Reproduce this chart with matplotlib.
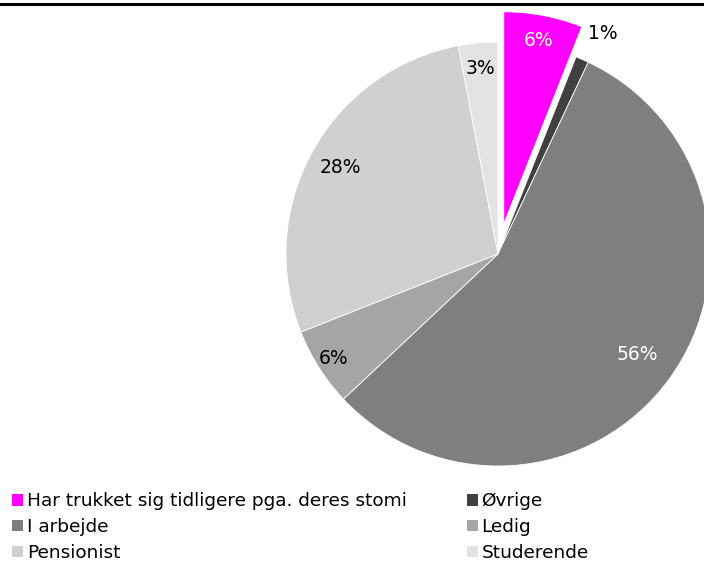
import numpy as np
import matplotlib
matplotlib.use("Agg")
import matplotlib.pyplot as plt
from matplotlib.patches import Rectangle
from matplotlib.lines import Line2D

categories = ["Har trukket sig tidligere pga. deres stomi", "Øvrige", "I arbejde",
              "Ledig", "Pensionist", "Studerende"]
values = [6, 1, 56, 6, 28, 3]
colors = ["#ff00ff", "#404040", "#7f7f7f", "#a5a5a5", "#d0d0d0", "#e3e3e3"]
label_colors = ["white", "black", "white", "black", "black", "black"]
explode_frac = [0.145, 0, 0, 0, 0, 0]
label_dist = [0.88, 1.15, 0.81, 0.92, 0.85, 0.88]
label_rot = [0, 2.0, 0, 0, 0, 0]

plt.rcParams['font.family'] = ['DejaVu Sans']
W, H = 704, 562
fig = plt.figure(figsize=(W / 100, H / 100), dpi=100)
ax = fig.add_axes([0, 0, 1, 1])

cx, cy, R = 498, H - 254, 212
wedges, _ = ax.pie(values, colors=colors, explode=[e * R for e in explode_frac],
                   startangle=90, counterclock=False, center=(cx, cy), radius=R,
                   wedgeprops=dict(edgecolor='white', linewidth=0.6),
                   frame=True)
ax.set_xlim(0, W)
ax.set_ylim(0, H)
ax.set_aspect('equal')
ax.axis('off')

for w, v, d, c, r in zip(wedges, values, label_dist, label_colors, label_rot):
    mid = np.deg2rad((w.theta1 + w.theta2) / 2 - r)
    wx, wy = w.center
    ax.text(wx + d * R * np.cos(mid), wy + d * R * np.sin(mid), f"{v}%",
            ha='center', va='center', fontsize=13.5, color=c)

# top rule (remains of a cut-off title)
fig.add_artist(Line2D([0, 1], [1 - 4 / H, 1 - 4 / H], color='black', lw=2.2))

order = [0, 2, 4, 1, 3, 5]
handles = [Rectangle((0, 0), 1, 1, facecolor=colors[i], edgecolor='none') for i in order]
labels = [categories[i] for i in order]
fig.legend(handles, labels, ncol=2, loc='upper left',
           bbox_to_anchor=(12 / W, 1 - 492.5 / H), frameon=False,
           fontsize=13.3, handlelength=0.6, handleheight=0.55,
           handletextpad=0.2, labelspacing=0.41, columnspacing=3.25,
           borderaxespad=0, borderpad=0)

fig.savefig("out.png", dpi=100)
